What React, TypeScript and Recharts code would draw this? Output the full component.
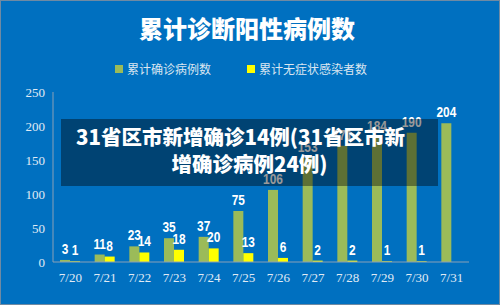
import React from 'react';
import { BarChart, Bar, XAxis, YAxis, Legend, LabelList } from 'recharts';

const dates = ['7/20', '7/21', '7/22', '7/23', '7/24', '7/25', '7/26', '7/27', '7/28', '7/29', '7/30', '7/31'];
const confirmed = [3, 11, 23, 35, 37, 75, 106, 153, 171, 184, 190, 204];
const asymptomatic = [1, 8, 14, 18, 20, 13, 6, 2, 2, 1, 1, 0];
const yTicks = [0, 50, 100, 150, 200, 250];

const GREEN = '#9BBB59';
const YELLOW = '#FFFF00';
const BG = '#0070C0';

const data = dates.map((date, i) => ({
    date,
    confirmed: confirmed[i],
    asymptomatic: asymptomatic[i],
}));

const cjk = '"Noto Sans CJK SC", "Noto Sans", sans-serif';
const serif = '"Liberation Serif", "DejaVu Serif", serif';

const tickStyle = { fill: '#e0ebf5', fontSize: 13, fontFamily: serif };

// Legend drawn as two square swatches with labels
const renderLegend = () => {
    const items = [
        { label: '累计确诊病例数', color: GREEN, gap: 36 },
        { label: '累计无症状感染者数', color: YELLOW, gap: 0 },
    ];
    return (
        <div style={{ display: 'flex', justifyContent: 'center', alignItems: 'center' }}>
            {items.map((it) => (
                <div key={it.label} style={{ display: 'flex', alignItems: 'center', marginRight: it.gap }}>
                    <span style={{ width: 8, height: 8, background: it.color, display: 'inline-block', marginRight: 4 }} />
                    <span style={{ color: '#dbe6f1', fontSize: 12, fontFamily: cjk, lineHeight: '14px' }}>{it.label}</span>
                </div>
            ))}
        </div>
    );
};

// Narrow bold value above each bar (horizontally squeezed)
const ValueLabel = (props: any) => {
    const { x, y, width, value } = props;
    const cx = x + width / 2;
    return (
        <text
            transform={`translate(${cx}, ${y - 6}) scale(0.82, 1)`}
            textAnchor="middle"
            fill="#ffffff"
            fontSize={14.5}
            fontWeight={700}
            fontFamily='"Liberation Sans", Arial, sans-serif'
        >
            {value}
        </text>
    );
};

export default function App() {
    return (
        <div
            style={{
                position: 'fixed',
                left: 0,
                top: 0,
                width: 500,
                height: 305,
                background: BG,
                border: '1px solid #6f8aa3',
                boxSizing: 'border-box',
                overflow: 'hidden',
            }}
        >
            <div
                style={{
                    position: 'absolute',
                    top: 11,
                    left: 0,
                    width: 492,
                    textAlign: 'center',
                    color: '#ffffff',
                    fontFamily: cjk,
                    fontWeight: 900,
                    fontSize: 24,
                    lineHeight: '32px',
                }}
            >
                累计诊断阳性病例数
            </div>

            <div style={{ position: 'absolute', left: -1, top: -1, fontFamily: serif }}>
                <BarChart
                    width={500}
                    height={305}
                    data={data}
                    margin={{ top: 78, right: 31, bottom: 13, left: 0 }}
                    barSize={10}
                    barGap={0}
                >
                    <XAxis
                        dataKey="date"
                        stroke="#8aa0b6"
                        tickLine={false}
                        tickMargin={5}
                        height={30}
                        tick={{ ...tickStyle, style: tickStyle }}
                    />
                    <YAxis
                        domain={[0, 250]}
                        ticks={yTicks}
                        stroke="#8aa0b6"
                        tickLine={false}
                        width={53}
                        tick={{ ...tickStyle, style: tickStyle }}
                    />
                    <Legend
                        verticalAlign="top"
                        content={renderLegend}
                        wrapperStyle={{ top: 62, left: 0, width: 482 }}
                    />
                    <Bar dataKey="confirmed" name="累计确诊病例数" fill={GREEN} isAnimationActive={false}>
                        <LabelList dataKey="confirmed" content={ValueLabel} />
                    </Bar>
                    <Bar dataKey="asymptomatic" name="累计无症状感染者数" fill={YELLOW} isAnimationActive={false}>
                        <LabelList dataKey="asymptomatic" content={ValueLabel} />
                    </Bar>
                </BarChart>
            </div>

            {/* translucent caption box laid over the chart */}
            <div
                style={{
                    position: 'absolute',
                    left: 60,
                    top: 118,
                    width: 377,
                    height: 67,
                    background: 'rgba(0, 0, 0, 0.4)',
                    color: '#ffffff',
                    fontFamily: cjk,
                    fontWeight: 900,
                    fontSize: 20.5,
                    lineHeight: '27px',
                    paddingTop: 4,
                    boxSizing: 'border-box',
                    textAlign: 'center',
                }}
            >
                <div style={{ paddingRight: 18 }}>31省区市新增确诊14例(31省区市新</div>
                <div>增确诊病例24例)</div>
            </div>
        </div>
    );
}
